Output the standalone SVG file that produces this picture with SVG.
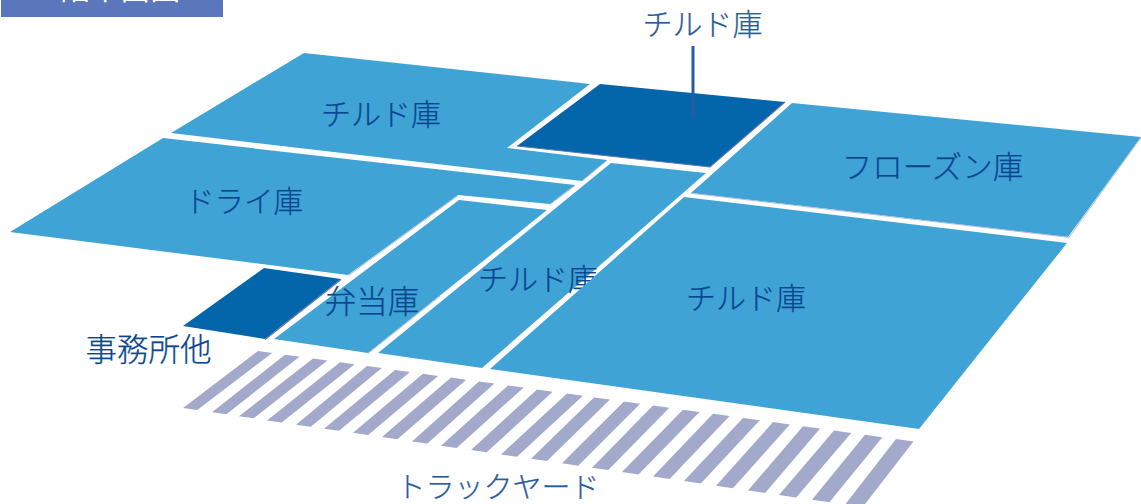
<svg xmlns="http://www.w3.org/2000/svg" width="1141" height="504" viewBox="0 0 1141 504">
<style>
.room{fill:#40a3d6}
.dark{fill:#0366aa}
.edge{fill:none;stroke:#b4bede;stroke-width:1}
.edged{fill:none;stroke:#5f72b0;stroke-width:1.2}
.stripe{fill:#a3a9cb}
text{font-family:"Noto Sans CJK JP","Noto Sans",sans-serif;font-weight:300;font-size:30px;fill:#0a4690;stroke:#0a4690;stroke-width:.25;text-anchor:middle}
.out{fill:#2a5a9e;stroke:#2a5a9e}
.big{font-size:31.500px}
</style>
<rect width="1141" height="504" fill="#fff"/>
<g id="banner"><rect x="1" y="-20" width="222" height="37" fill="#5b77bb"/><text x="112" y="-1" style="fill:#fff;stroke:none;font-size:30px;font-weight:400">3階平面図</text></g>
<g id="room-chilled-top"><polygon class="room" points="304,53 590,84 507,148 607,160 582,181 171,133"/><text x="381" y="125">チルド庫</text></g>
<g id="room-dark-top"><polygon class="dark" points="600,84 785,102 710,167 517,146"/></g>
<g id="room-freezer"><polygon class="room" points="792,103 1141,137 1068,237 691,193"/><text x="932.500" y="178" style="font-size:30.500px">フローズン庫</text></g>
<g id="room-dry"><polygon class="room" points="163,138 575,185 550,204 458,195 348,275 10,232"/><text x="244" y="212" style="font-size:29.500px">ドライ庫</text></g>
<g id="room-bento"><polygon class="room" points="459,200 547,210 368,353 274,339"/><text class="big" x="372" y="313">弁当庫</text></g>
<g id="room-chilled-center"><polygon class="room" points="611,163 706,173 482,368 378,353"/><text x="538" y="290">チルド庫</text></g>
<g id="room-chilled-large"><polygon class="room" points="684,197 1067,243 919,429 490,369"/><text x="746" y="309">チルド庫</text></g>
<g id="room-office"><polygon class="dark" points="264,268 341,279 265,339 183,326"/><text class="big" x="148.500" y="361">事務所他</text></g>
<g id="edges">
<path class="edge" d="M1141 137.500L1068.500 238M691 193.300L1068 237.300M458 195.500L348.500 275.500M582 181L607 160.500M550 204.500L575 185.500M368 353.500L440 296"/>
<path class="edged" d="M785 102L710 167L517 146M341 279.500L265 339.500"/>
</g>
<g id="truck-yard">
<path class="stripe" d="M258 351l14.200 2L197.200 410l-14.200-2zM285 354.700l14.400 2L226.400 414.300l-14.400-2zM313 358.600l14.500 2L253.500 418.300l-14.500-2zM340 362.300l14.700 2L281.700 422.400l-14.700-2zM367 366l14.800 2L310.800 426.700l-14.800-2zM395 369.900l15 2L339 430.800l-15-2zM423 373.800l15.100 2.100L368.100 435l-15.100-2.200zM451 377.600l15.300 2.100L397.300 439.200l-15.300-2.200zM479 381.500l15.400 2.100L427.400 443.600l-15.400-2.200zM508 385.500l15.600 2.100L456.600 448l-15.600-2.300zM537 389.500l15.700 2.200L486.700 452.300l-15.700-2.300zM567 393.600l15.900 2.200L516.900 456.700l-15.900-2.300zM594 397.400l16 2.200L547 461.100l-16-2.300zM624 401.500l16.200 2.200L578.200 465.700l-16.200-2.400zM653 405.500l16.300 2.300L608.300 470.100l-16.300-2.400zM683 409.700l16.500 2.300L638.500 474.500l-16.500-2.400zM713 413.800l16.600 2.300L669.600 479l-16.600-2.400zM743 417.900l16.800 2.300L700.800 483.500l-16.800-2.400zM773 422.100l16.900 2.300L732.900 488.300l-16.900-2.500zM803 426.200l17.100 2.400L765.100 493l-17.100-2.500zM834 430.500l17.200 2.400L796.200 497.500l-17.200-2.500zM865 434.800l17.400 2.400L829.400 502.300l-17.400-2.500zM896 439l17.500 2.400L862.500 507.300l-17.500-2.600z"/>
</g>
<g id="connectors"><line x1="693" y1="46" x2="693" y2="117" stroke="#2a5a9e" stroke-width="3"/></g>
<g id="labels"><text class="out" x="702.500" y="35">チルド庫</text><text class="out" x="498" y="498" style="font-size:29px">トラックヤード</text></g>
</svg>
